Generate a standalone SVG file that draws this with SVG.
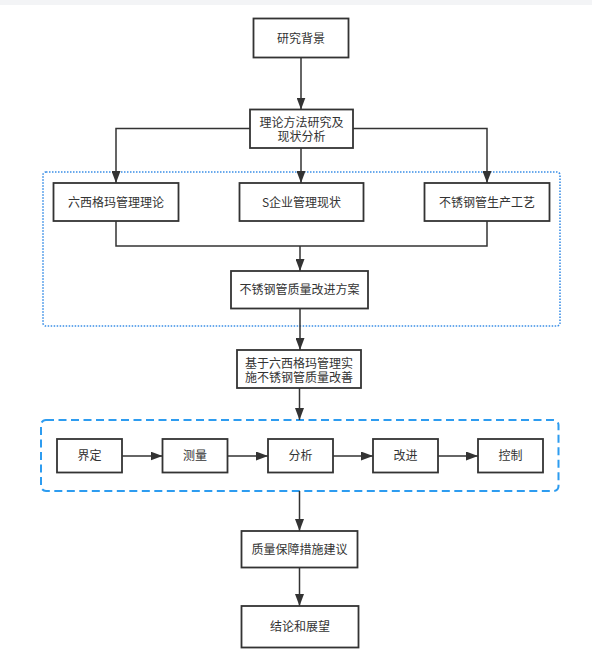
<svg xmlns="http://www.w3.org/2000/svg" width="592" height="662" viewBox="0 0 592 662">
  <style>
    .box { fill: #ffffff; stroke: #333333; stroke-width: 1.8; }
    .lbl { font-family: "Noto Sans CJK SC", "Liberation Sans", sans-serif; font-size: 12px; fill: #333333; text-anchor: middle; }
    .edge { fill: none; stroke: #333333; stroke-width: 1.5; }
    .arr { marker-end: url(#ah); }
    .dotted { fill: none; stroke: #3a8ee6; stroke-width: 1.6; stroke-dasharray: 1.5 1.5; }
    .dashed { fill: none; stroke: #2d9cf0; stroke-width: 2; stroke-dasharray: 8 4.5; }
  </style>
  <defs>
    <marker id="ah" markerUnits="userSpaceOnUse" markerWidth="12" markerHeight="9" refX="12" refY="4.5" orient="auto">
      <path d="M0,0 L12,4.5 L0,9 z" fill="#333333"/>
    </marker>
  </defs>
  <rect x="0" y="0" width="592" height="662" fill="#ffffff"/>
  <rect x="0" y="0" width="592" height="5" fill="#f3f4f6"/>

  <g id="containers">
    <rect id="group-analysis" class="dotted" x="43" y="172" width="517" height="154" rx="3"/>
    <rect id="group-dmaic" class="dashed" x="41" y="420" width="517.5" height="71" rx="5"/>
  </g>

  <g id="connectors">
    <path class="edge arr" d="M301,58 L301,109.5"/>
    <path class="edge arr" d="M301,148 L301,183"/>
    <path class="edge arr" d="M250,128.5 L116,128.5 L116,183"/>
    <path class="edge arr" d="M353,128.5 L487,128.5 L487,183"/>
    <path class="edge" d="M116,221 L116,246 L487,246 L487,221"/>
    <path class="edge arr" d="M300,246 L300,271"/>
    <path class="edge arr" d="M300,308.5 L300,350"/>
    <path class="edge arr" d="M299.5,388 L299.5,420"/>
    <path class="edge arr" d="M122,456 L162.5,456"/>
    <path class="edge arr" d="M227.5,456 L268,456"/>
    <path class="edge arr" d="M333,456 L373,456"/>
    <path class="edge arr" d="M438,456 L478,456"/>
    <path class="edge arr" d="M299.5,491 L299.5,531"/>
    <path class="edge arr" d="M299.5,567.5 L299.5,606"/>
  </g>

  <g id="n-background">
    <rect class="box" x="253.5" y="18.5" width="95" height="39"/>
    <text class="lbl" x="301" y="42.5">研究背景</text>
  </g>
  <g id="n-theory">
    <rect class="box" x="250" y="109.5" width="103" height="38.5"/>
    <text class="lbl" x="301.5" y="126.5">理论方法研究及<tspan x="301.5" dy="14.5">现状分析</tspan></text>
  </g>
  <g id="n-sixsigma">
    <rect class="box" x="53.5" y="183" width="125" height="38"/>
    <text class="lbl" x="116" y="206.5">六西格玛管理理论</text>
  </g>
  <g id="n-status">
    <rect class="box" x="239.5" y="183" width="124" height="38"/>
    <text class="lbl" x="301.5" y="206.5">S企业管理现状</text>
  </g>
  <g id="n-process">
    <rect class="box" x="424.5" y="183" width="125" height="38"/>
    <text class="lbl" x="487" y="206.5">不锈钢管生产工艺</text>
  </g>
  <g id="n-plan">
    <rect class="box" x="231" y="271" width="137" height="37.5"/>
    <text class="lbl" x="299.5" y="294">不锈钢管质量改进方案</text>
  </g>
  <g id="n-implement">
    <rect class="box" x="237" y="350" width="124" height="38"/>
    <text class="lbl" x="299" y="367.5">基于六西格玛管理实<tspan x="299" dy="14">施不锈钢管质量改善</tspan></text>
  </g>
  <g id="n-define">
    <rect class="box" x="57" y="439" width="65" height="33.5"/>
    <text class="lbl" x="89.5" y="460">界定</text>
  </g>
  <g id="n-measure">
    <rect class="box" x="162.5" y="439" width="65" height="33.5"/>
    <text class="lbl" x="195" y="460">测量</text>
  </g>
  <g id="n-analyze">
    <rect class="box" x="268" y="439" width="65" height="33.5"/>
    <text class="lbl" x="300.5" y="460">分析</text>
  </g>
  <g id="n-improve">
    <rect class="box" x="373" y="439" width="65" height="33.5"/>
    <text class="lbl" x="405.5" y="460">改进</text>
  </g>
  <g id="n-control">
    <rect class="box" x="478" y="439" width="65" height="33.5"/>
    <text class="lbl" x="510.5" y="460">控制</text>
  </g>
  <g id="n-assurance">
    <rect class="box" x="241.5" y="531" width="116" height="36.5"/>
    <text class="lbl" x="299.5" y="553.5">质量保障措施建议</text>
  </g>
  <g id="n-conclusion">
    <rect class="box" x="241.5" y="606" width="117" height="41.5"/>
    <text class="lbl" x="300" y="631">结论和展望</text>
  </g>
</svg>
